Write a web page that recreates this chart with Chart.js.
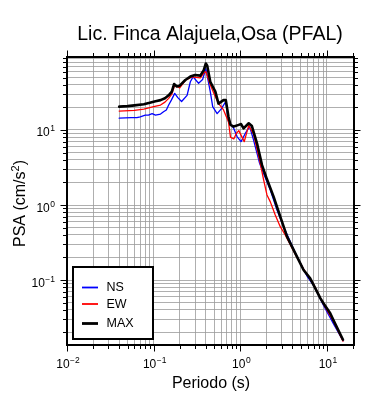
<!DOCTYPE html>
<html>
<head>
<meta charset="utf-8">
<script src="https://cdn.jsdelivr.net/npm/chart.js@4/dist/chart.umd.min.js"></script>
<style>
html,body{margin:0;padding:0;background:#fff;}
#wrap{width:390px;height:400px;}
</style>
</head>
<body>
<div id="wrap"><canvas id="c" width="390" height="400"></canvas></div>
<script>
// ---- data ----
const chartTitle = 'Lic. Finca Alajuela,Osa (PFAL)';
const xAxisTitle = 'Periodo (s)';
const yAxisTitleBase = 'PSA (cm/s';
const yAxisTitleSup = '2';
const yAxisTitleEnd = ')';
const seriesNames = ['NS', 'EW', 'MAX'];
const seriesColors = ['#0000ff', '#ff0000', '#000000'];
const xTickExponents = [-2, -1, 0, 1];
const yTickExponents = [-1, 0, 1];
const xRange = [0.01, 20.5];
const yRange = [0.0136, 94];

const periodsNS = [0.04, 0.055, 0.064, 0.07, 0.08, 0.087, 0.096, 0.105, 0.12, 0.13, 0.14, 0.149, 0.16, 0.175, 0.19, 0.21, 0.243, 0.265, 0.285, 0.33, 0.367, 0.40, 0.45, 0.48, 0.54, 0.6, 0.68, 0.73, 0.84, 0.92, 1.02, 1.14, 1.28, 1.42, 1.67, 1.86, 2.22, 2.65, 3.16, 4.5, 5.9, 7.0, 9.1, 10.5, 11.9, 15.3];
const psaNS     = [14.4, 14.6, 14.6, 15.0, 15.8, 15.8, 16.5, 15.8, 16.3, 17.5, 18.5, 21.5, 25.0, 30.8, 27.0, 24.0, 29.0, 44.0, 51.0, 42.0, 47.0, 66.0, 32.4, 20.5, 16.5, 19.0, 24.0, 13.0, 10.5, 8.1, 7.0, 9.0, 11.1, 7.4, 3.6, 2.6, 1.58, 0.858, 0.514, 0.205, 0.112, 0.085, 0.046, 0.034, 0.026, 0.0155];

const periodsEW = [0.04, 0.06, 0.077, 0.1, 0.12, 0.135, 0.149, 0.162, 0.175, 0.2, 0.232, 0.277, 0.345, 0.377, 0.4, 0.45, 0.5, 0.56, 0.64, 0.73, 0.77, 0.84, 0.9, 0.96, 1.11, 1.25, 1.42, 1.7, 1.86, 2.03, 2.22, 2.53, 2.89, 3.3, 4.5, 5.37, 7.0, 9.1, 11.9, 15.3];
const psaEW     = [17.9, 18.3, 19.0, 20.5, 21.5, 23.5, 26.4, 30.0, 39.8, 36.5, 46.0, 51.0, 49.5, 57.0, 60.0, 40.0, 30.0, 22.6, 18.5, 12.9, 8.0, 7.6, 9.0, 9.8, 7.0, 11.5, 8.8, 3.6, 2.15, 1.36, 1.1, 0.735, 0.514, 0.398, 0.2, 0.14, 0.088, 0.048, 0.028, 0.0153];

const periodsMAX = [0.04, 0.05, 0.06, 0.077, 0.09, 0.105, 0.12, 0.135, 0.149, 0.162, 0.172, 0.185, 0.2, 0.232, 0.265, 0.3, 0.345, 0.377, 0.4, 0.415, 0.45, 0.515, 0.56, 0.64, 0.68, 0.73, 0.77, 0.84, 0.96, 1.02, 1.09, 1.25, 1.36, 1.56, 1.78, 2.03, 2.42, 2.89, 3.46, 4.5, 5.37, 6.4, 8.4, 9.1, 10.9, 11.9, 15.3];
const psaMAX     = [20.5, 20.8, 21.3, 22.0, 23.0, 24.2, 25.0, 26.5, 29.0, 32.5, 41.0, 38.0, 39.0, 46.4, 51.5, 54.0, 53.0, 62.0, 77.0, 72.0, 44.0, 32.4, 22.5, 25.0, 25.0, 15.0, 11.7, 11.1, 11.7, 12.0, 10.5, 12.3, 11.3, 6.6, 3.4, 2.2, 1.29, 0.70, 0.378, 0.205, 0.136, 0.105, 0.057, 0.049, 0.036, 0.029, 0.016];

// ---- helpers ----
function pairs(xs, ys) { return xs.map((x, i) => ({ x: x, y: ys[i] })); }
function logTicks(min, max) {
  const out = [];
  for (let e = Math.floor(Math.log10(min)); e <= Math.ceil(Math.log10(max)); e++) {
    for (let m = 1; m <= 9; m++) {
      const v = m * Math.pow(10, e);
      if (v >= min * 0.9999 && v <= max * 1.0001) out.push(v);
    }
  }
  return out;
}
function isMajor(v) { const l = Math.log10(v); return Math.abs(l - Math.round(l)) < 1e-6; }

const FONT = '"Liberation Sans", Arial, Helvetica, sans-serif';

function powWidth(ctx, exp) {
  ctx.font = '12px ' + FONT;
  const w1 = ctx.measureText('10').width;
  ctx.font = '8.5px ' + FONT;
  const w2 = ctx.measureText(exp).width;
  return [w1, w2];
}
function drawPow(ctx, exp, x, baseline, align) {
  const s = String(exp).replace('-', '\u2212');
  const [w1, w2] = powWidth(ctx, s);
  const total = w1 + w2 + 0.5;
  let left = x;
  if (align === 'center') left = x - total / 2;
  else if (align === 'right') left = x - total;
  ctx.fillStyle = '#000';
  ctx.textAlign = 'left';
  ctx.textBaseline = 'alphabetic';
  ctx.font = '12px ' + FONT;
  ctx.fillText('10', left, baseline);
  ctx.font = '8.5px ' + FONT;
  ctx.fillText(s, left + w1 + 0.5, baseline - 5);
}

const decorPlugin = {
  id: 'decor',
  afterDatasetsDraw(chart) {
    const ctx = chart.ctx;
    const a = chart.chartArea;
    const xs = chart.scales.x, ys = chart.scales.y;
    ctx.save();
    // legend box
    const lb = { l: 73, t: 267, r: 153, b: 339 };
    ctx.fillStyle = '#fff';
    ctx.fillRect(lb.l, lb.t, lb.r - lb.l, lb.b - lb.t);
    ctx.strokeStyle = '#000';
    ctx.lineWidth = 2;
    ctx.strokeRect(lb.l, lb.t, lb.r - lb.l, lb.b - lb.t);
    const rowsY = [287.5, 304, 323.5];
    const widths = [1.8, 1.8, 2.8];
    seriesNames.forEach((n, i) => {
      ctx.strokeStyle = seriesColors[i];
      ctx.lineWidth = widths[i];
      ctx.beginPath();
      ctx.moveTo(82, rowsY[i]);
      ctx.lineTo(98, rowsY[i]);
      ctx.stroke();
      ctx.fillStyle = '#000';
      ctx.font = '12.5px ' + FONT;
      ctx.textAlign = 'left';
      ctx.textBaseline = 'middle';
      ctx.fillText(n, 106.5, rowsY[i] + 0.5);
    });
    // frame
    ctx.strokeStyle = '#000';
    ctx.lineWidth = 2;
    ctx.strokeRect(a.left, a.top, a.right - a.left, a.bottom - a.top);
    // tick marks on all sides
    ctx.lineWidth = 1;
    logTicks(xRange[0], xRange[1]).forEach(v => {
      const px = Math.round(xs.getPixelForValue(v)) + 0.5;
      const len = isMajor(v) ? 5.5 : 3;
      ctx.beginPath();
      ctx.moveTo(px, a.bottom + 1); ctx.lineTo(px, a.bottom + 1 + len);
      ctx.moveTo(px, a.top - 1); ctx.lineTo(px, a.top - 1 - len);
      ctx.stroke();
    });
    logTicks(yRange[0], yRange[1]).forEach(v => {
      const py = Math.round(ys.getPixelForValue(v)) + 0.5;
      const len = isMajor(v) ? 5.5 : 3;
      ctx.beginPath();
      ctx.moveTo(a.left - 1, py); ctx.lineTo(a.left - 1 - len, py);
      ctx.moveTo(a.right + 1, py); ctx.lineTo(a.right + 1 + len, py);
      ctx.stroke();
    });
    // tick labels
    xTickExponents.forEach(e => {
      const px = xs.getPixelForValue(Math.pow(10, e));
      drawPow(ctx, e, px + 1, 367.5, 'center');
    });
    yTickExponents.forEach(e => {
      const py = ys.getPixelForValue(Math.pow(10, e));
      drawPow(ctx, e, 55, py + 6.5, 'right');
    });
    // title
    ctx.fillStyle = '#000';
    ctx.font = '19.5px ' + FONT;
    ctx.textAlign = 'center';
    ctx.textBaseline = 'alphabetic';
    ctx.fillText(chartTitle, 210, 40);
    // x axis title
    ctx.font = '16px ' + FONT;
    ctx.fillText(xAxisTitle, 211, 388);
    // y axis title (rotated, with superscript)
    ctx.translate(25, 203.5);
    ctx.rotate(-Math.PI / 2);
    ctx.font = '16px ' + FONT;
    const w1 = ctx.measureText(yAxisTitleBase).width;
    const w3 = ctx.measureText(yAxisTitleEnd).width;
    ctx.font = '11px ' + FONT;
    const w2 = ctx.measureText(yAxisTitleSup).width;
    const tot = w1 + w2 + w3;
    let x0 = -tot / 2;
    ctx.textAlign = 'left';
    ctx.font = '16px ' + FONT;
    ctx.fillText(yAxisTitleBase, x0, 0);
    ctx.font = '11px ' + FONT;
    ctx.fillText(yAxisTitleSup, x0 + w1, -6.5);
    ctx.font = '16px ' + FONT;
    ctx.fillText(yAxisTitleEnd, x0 + w1 + w2, 0);
    ctx.restore();
  }
};

const ctx = document.getElementById('c').getContext('2d');
new Chart(ctx, {
  type: 'line',
  data: {
    datasets: [
      { label: seriesNames[0], data: pairs(periodsNS, psaNS), borderColor: seriesColors[0], borderWidth: 1.3, order: 2 },
      { label: seriesNames[1], data: pairs(periodsEW, psaEW), borderColor: seriesColors[1], borderWidth: 1.3, order: 1 },
      { label: seriesNames[2], data: pairs(periodsMAX, psaMAX), borderColor: seriesColors[2], borderWidth: 2.6, order: 0 }
    ]
  },
  options: {
    responsive: false,
    animation: false,
    devicePixelRatio: 1,
    layout: { padding: { left: 67, right: 36, top: 57, bottom: 55 } },
    elements: {
      point: { radius: 0, hoverRadius: 0 },
      line: { tension: 0, fill: false, borderJoinStyle: 'round', borderCapStyle: 'round' }
    },
    plugins: { legend: { display: false }, tooltip: { enabled: false }, title: { display: false } },
    scales: {
      x: {
        type: 'logarithmic', min: xRange[0], max: xRange[1],
        afterBuildTicks: s => { s.ticks = logTicks(xRange[0], xRange[1]).map(v => ({ value: v })); },
        ticks: { display: false },
        grid: { color: '#9a9a9a', lineWidth: 0.8, drawTicks: false },
        border: { display: false }
      },
      y: {
        type: 'logarithmic', min: yRange[0], max: yRange[1],
        afterBuildTicks: s => { s.ticks = logTicks(yRange[0], yRange[1]).map(v => ({ value: v })); },
        ticks: { display: false },
        grid: { color: '#9a9a9a', lineWidth: 0.8, drawTicks: false },
        border: { display: false }
      }
    }
  },
  plugins: [decorPlugin]
});
</script>
</body>
</html>
